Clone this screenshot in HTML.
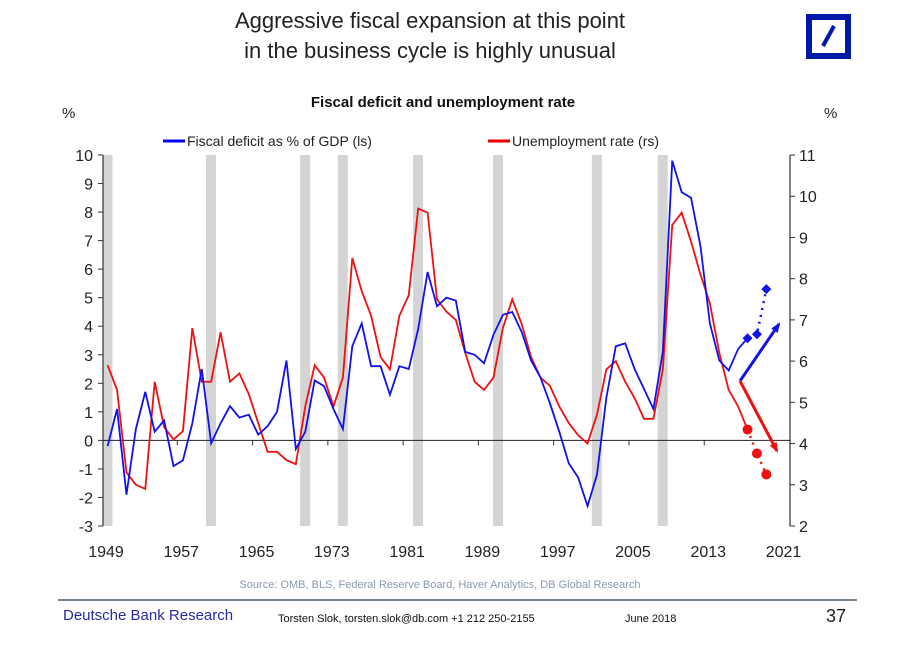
<!DOCTYPE html>
<html><head><meta charset="utf-8">
<style>
body{margin:0;background:#fff;width:897px;height:655px;overflow:hidden;font-family:"Liberation Sans",Arial,sans-serif;}
</style></head>
<body>
<svg id="chart" width="897" height="655" viewBox="0 0 897 655" xmlns="http://www.w3.org/2000/svg" font-family="Liberation Sans, Arial, sans-serif">
<text x="430" y="28" font-size="22" text-anchor="middle" fill="#222">Aggressive fiscal expansion at this point</text>
<text x="430" y="58" font-size="22" text-anchor="middle" fill="#222">in the business cycle is highly unusual</text>
<g>
<rect x="806" y="14" width="45" height="45" fill="#0018a8"/>
<rect x="812" y="20" width="33" height="33" fill="#fff"/>
<line x1="823" y1="46" x2="834" y2="26" stroke="#0018a8" stroke-width="4"/>
</g>
<text x="443" y="107" font-size="15" font-weight="bold" text-anchor="middle" fill="#111">Fiscal deficit and unemployment rate</text>
<text x="62" y="118" font-size="15" fill="#222">%</text>
<text x="824" y="118" font-size="15" fill="#222">%</text>
<g>
<line x1="163" y1="141" x2="185" y2="141" stroke="#0000ee" stroke-width="3"/>
<text x="187" y="146" font-size="14" fill="#222">Fiscal deficit as % of GDP (ls)</text>
<line x1="488" y1="141" x2="510" y2="141" stroke="#ee0000" stroke-width="3"/>
<text x="512" y="146" font-size="14" fill="#222">Unemployment rate (rs)</text>
</g>
<g id="plot"></g>
<text x="440" y="588" font-size="11" text-anchor="middle" fill="#8a9ab0">Source: OMB, BLS, Federal Reserve Board, Haver Analytics, DB Global Research</text>
<line x1="58" y1="600" x2="857" y2="600" stroke="#7a8594" stroke-width="2"/>
<text x="63" y="620" font-size="15" fill="#2a2aa0">Deutsche Bank Research</text>
<text x="278" y="622" font-size="11" fill="#111">Torsten Slok, torsten.slok@db.com  +1 212 250-2155</text>
<text x="625" y="622" font-size="11" fill="#111">June 2018</text>
<text x="826" y="622" font-size="18" fill="#222">37</text>
</svg>
<script>
const startYear = 1949;
const deficit = [-0.2,1.1,-1.9,0.4,1.7,0.3,0.7,-0.9,-0.7,0.6,2.5,-0.1,0.6,1.2,0.8,0.9,0.2,0.5,1.0,2.8,-0.3,0.3,2.1,1.9,1.1,0.4,3.3,4.1,2.6,2.6,1.6,2.6,2.5,3.9,5.9,4.7,
 5.0,4.9,3.1,3.0,2.7,3.7,4.4,4.5,3.8,2.8,2.2,1.3,0.3,-0.8,-1.3,-2.3,-1.2,1.5,3.3,3.4,2.5,1.8,1.1,3.1,9.8,8.7,8.5,6.8,4.1,2.8,2.45,3.2,3.58];
const unemp = [5.9,5.3,3.3,3.0,2.9,5.5,4.4,4.1,4.3,6.8,5.5,5.5,6.7,5.5,5.7,5.2,4.5,3.8,3.8,3.6,3.5,4.9,5.9,5.6,4.9,5.6,8.5,7.7,7.1,6.1,5.8,7.1,7.6,9.7,9.6,7.5,
 7.2,7.0,6.2,5.5,5.3,5.6,6.8,7.5,6.9,6.1,5.6,5.4,4.9,4.5,4.2,4.0,4.7,5.8,6.0,5.5,5.1,4.6,4.6,5.8,9.3,9.6,8.9,8.1,7.4,6.2,5.3,4.9,4.34];
const deficitProjYears = [2017,2018,2019];
const deficitProj = [3.58,3.72,5.3];
const unempProjYears = [2017,2018,2019];
const unempProj = [4.34,3.76,3.25];
const recessions = [1949,1960,1970,1974,1982,1990.5,2001,2008];
const xTicks = [1949,1957,1965,1973,1981,1989,1997,2005,2013,2021];
const leftTicks = [10,9,8,7,6,5,4,3,2,1,0,-1,-2,-3];
const rightTicks = [11,10,9,8,7,6,5,4,3,2];

const NS="http://www.w3.org/2000/svg";
const L=103,R=790,T=155,B=526;
const x=y=>102+(y-1949)*9.41;
const xd=y=>x(y+0.6);
const yl=v=>T+(10-v)*(B-T)/13;
const yr=v=>T+(11-v)*(B-T)/9;
const g=document.getElementById('plot');
function mk(tag,attrs,parent){const e=document.createElementNS(NS,tag);for(const k in attrs)e.setAttribute(k,attrs[k]);(parent||g).appendChild(e);return e;}

recessions.forEach(r=>{
 const e=mk('rect',{x:x(r)+0.5,y:T,width:10,height:B-T,fill:'#d4d4d4'});
 
 
});
let e=mk('line',{x1:L,y1:T,x2:L,y2:B,stroke:'#333','stroke-width':1.2});


e=mk('line',{x1:R,y1:T,x2:R,y2:B,stroke:'#333','stroke-width':1.2});


e=mk('line',{x1:L,y1:yl(0),x2:R,y2:yl(0),stroke:'#222','stroke-width':1});


leftTicks.forEach(v=>{
 mk('line',{x1:L-5,y1:yl(v),x2:L,y2:yl(v),stroke:'#333'});
 const t=mk('text',{x:L-10,y:yl(v)+6,'font-size':16,'text-anchor':'end',fill:'#222'});
 t.textContent=v;
 
 
});
rightTicks.forEach(v=>{
 mk('line',{x1:R,y1:yr(v),x2:R+5,y2:yr(v),stroke:'#333'});
 const t=mk('text',{x:R+9,y:yr(v)+6,'font-size':16,fill:'#222'});
 t.textContent=v;
 
 
});
xTicks.forEach(v=>{
 if(v>1949&&v<2021) mk('line',{x1:x(v),y1:yl(0),x2:x(v),y2:yl(0)+5,stroke:'#333'});
 const t=mk('text',{x:x(v)+4,y:557,'font-size':16,'text-anchor':'middle',fill:'#222'});
 t.textContent=v;
 
 
});
e=mk('polyline',{points:unemp.map((v,i)=>xd(startYear+i)+','+yr(v)).join(' '),fill:'none',stroke:'#ee1111','stroke-width':1.8});


e=mk('polyline',{points:deficit.map((v,i)=>xd(startYear+i)+','+yl(v)).join(' '),fill:'none',stroke:'#1111ee','stroke-width':1.8});


e=mk('polyline',{points:deficitProj.map((v,i)=>xd(deficitProjYears[i])+','+yl(v)).join(' '),fill:'none',stroke:'#1111ee','stroke-width':2.5,'stroke-dasharray':'2,5'});


deficitProj.forEach((v,i)=>{
 const cx=xd(deficitProjYears[i]),cy=yl(v);
 const d=mk('polygon',{points:`${cx},${cy-5} ${cx+5},${cy} ${cx},${cy+5} ${cx-5},${cy}`,fill:'#1111ee'});
 
 
});
e=mk('polyline',{points:unempProj.map((v,i)=>xd(unempProjYears[i])+','+yr(v)).join(' '),fill:'none',stroke:'#ee1111','stroke-width':2.5,'stroke-dasharray':'2,5'});


unempProj.forEach((v,i)=>{
 const c=mk('circle',{cx:xd(unempProjYears[i]),cy:yr(v),r:5,fill:'#ee1111'});
 
 
});
function arrow(x1,y1,x2,y2,col,name){
 const a=mk('line',{x1,y1,x2,y2,stroke:col,'stroke-width':3});
 
 
 const ang=Math.atan2(y2-y1,x2-x1),s=9;
 const p1=[x2-s*Math.cos(ang-0.45),y2-s*Math.sin(ang-0.45)],p2=[x2-s*Math.cos(ang+0.45),y2-s*Math.sin(ang+0.45)];
 mk('polygon',{points:`${x2+2*Math.cos(ang)},${y2+2*Math.sin(ang)} ${p1} ${p2}`,fill:col});
}
arrow(740,381,779,324,'#1111ee','deficit-trend-arrow');
arrow(740,381,777,451,'#ee1111','unemployment-trend-arrow');
</script>
</body></html>
